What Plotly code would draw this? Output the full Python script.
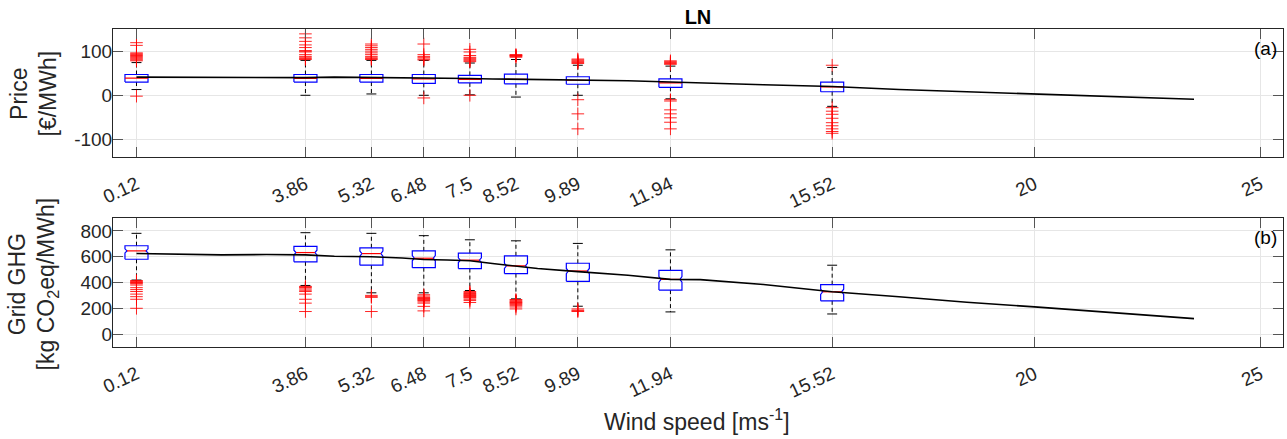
import plotly.graph_objects as go

# ---------------- data ----------------
wind = [0.12, 3.86, 5.32, 6.48, 7.5, 8.52, 9.89, 11.94, 15.52]
tick_vals = [0.12, 3.86, 5.32, 6.48, 7.5, 8.52, 9.89, 11.94, 15.52, 20, 25]
tick_text = ["0.12", "3.86", "5.32", "6.48", "7.5", "8.52", "9.89", "11.94", "15.52", "20", "25"]

price_q1 = [30, 30, 30, 27, 28, 26, 25, 18, 8]
price_med = [39, 38, 38, 37, 36, 36, 34, 28, 19]
price_q3 = [47, 47, 47, 47, 45, 48, 42, 37, 30]
price_lo = [13, 0, 3, 0, 1, -4, 0, -8, -25]
price_hi = [74, 79, 79, 79, 73, 81, 68, 66, 63]
price_out = [
    [119, 113, 96, 94, 92, 90, 88, 86, 84, 82, 80, 78, -2],
    [139, 130, 122, 114, 108, 101, 100, 98, 92, 88, 85, 83, 81],
    [116, 112, 108, 104, 100, 96, 92, 88, 85, 83, 81],
    [116, 92, 88, 85, 82, 80, -6],
    [104, 98, 90, 86, 84, 82, 80, 78, 76, 0],
    [92, 91, 90, 89, 88, 86],
    [82, 80, 78, 76, 74, 72, -10, -42, -76],
    [78, 76, 74, 72, 70, -10, -13, -33, -42, -51, -61, -76],
    [68, -28, -36, -43, -52, -62, -69, -76, -82, -86],
]

ghg_q1 = [580, 560, 534, 515, 508, 469, 409, 341, 258]
ghg_med = [645, 632, 624, 588, 573, 529, 489, 424, 328]
ghg_q3 = [685, 680, 669, 645, 627, 607, 549, 494, 383]
ghg_lo = [419, 377, 320, 320, 338, 273, 216, 172, 156]
ghg_hi = [781, 786, 781, 763, 731, 723, 703, 653, 534]
ghg_notch = [16, 18, 20, 20, 18, 20, 20, 22, 20]
ghg_out = [
    [415, 410, 405, 400, 395, 390, 380, 360, 345, 330, 310, 290, 270, 200],
    [370, 365, 360, 350, 340, 330, 310, 270, 240, 175],
    [300, 290, 285, 175],
    [305, 295, 285, 280, 275, 270, 265, 260, 250, 240, 215, 180],
    [330, 322, 315, 310, 305, 300, 295, 290, 285, 280, 270, 260, 245],
    [268, 262, 255, 250, 245, 240, 235, 228, 220, 210, 195],
    [195, 185, 180, 175],
    [],
    [],
]

line_x = [0.12, 1, 2, 3, 3.86, 4.5, 5.32, 6, 6.48, 7, 7.5, 8, 8.52, 9, 9.89,
          11, 11.94, 12.6, 14, 15.52, 17, 18.5, 20, 21.5, 23.53]
price_line = [41, 40.5, 40, 40.5, 40, 41, 40.5, 39.5, 38.5, 38.5, 38, 37, 36.5, 36, 34.5,
              33, 30, 28.5, 24, 20, 13, 8, 3, -2, -9]
ghg_line = [625, 618, 614, 617, 614, 603, 600, 590, 578, 574, 568, 547, 529, 508, 484,
            456, 424, 422, 385, 328, 289, 247, 211, 172, 120]

# ---------------- style ----------------
BOX_HW = 0.255      # half box width (x units)
CAP_HW = 0.11       # half cap width
NOTCH_IN = 0.045    # notch indent
FONT = "Liberation Sans, Arial, Helvetica, sans-serif"
TXT = "#262626"

fig = go.Figure()


def add_panel(xa, ya, q1, med, q3, lo, hi, outs, notch, lx, ly):
    wx, wy, cx, cy, bx, by, mx, my, ox, oy = [], [], [], [], [], [], [], [], [], []
    for i, p in enumerate(wind):
        wx += [p, p, None, p, p, None]
        wy += [q3[i], hi[i], None, q1[i], lo[i], None]
        cx += [p - CAP_HW, p + CAP_HW, None, p - CAP_HW, p + CAP_HW, None]
        cy += [hi[i], hi[i], None, lo[i], lo[i], None]
        n = notch[i] if notch else 0
        ind = NOTCH_IN if notch else 0
        bx += [p - BOX_HW, p + BOX_HW, p + BOX_HW, p + BOX_HW - ind, p + BOX_HW,
               p + BOX_HW, p - BOX_HW, p - BOX_HW, p - BOX_HW + ind, p - BOX_HW, p - BOX_HW, None]
        by += [q1[i], q1[i], med[i] - n, med[i], med[i] + n,
               q3[i], q3[i], med[i] + n, med[i], med[i] - n, q1[i], None]
        mx += [p - BOX_HW + ind, p + BOX_HW - ind, None]
        my += [med[i], med[i], None]
        for v in outs[i]:
            ox.append(p)
            oy.append(v)
    common = dict(xaxis=xa, yaxis=ya, showlegend=False, hoverinfo="skip")
    fig.add_trace(go.Scatter(x=wx, y=wy, mode="lines",
                             line=dict(color="black", width=1, dash="4px,3px"), **common))
    fig.add_trace(go.Scatter(x=cx, y=cy, mode="lines",
                             line=dict(color="black", width=1), **common))
    fig.add_trace(go.Scatter(x=bx, y=by, mode="lines",
                             line=dict(color="#0000ff", width=1.2), **common))
    fig.add_trace(go.Scatter(x=mx, y=my, mode="lines",
                             line=dict(color="#ff0000", width=1.2), **common))
    fig.add_trace(go.Scatter(x=ox, y=oy, mode="markers",
                             marker=dict(symbol="cross-thin-open", size=9, color="#ff0000",
                                         opacity=0.85,
                                         line=dict(color="#ff0000", width=1)), **common))
    fig.add_trace(go.Scatter(x=lx, y=ly, mode="lines",
                             line=dict(color="black", width=1.6), **common))


add_panel("x", "y", price_q1, price_med, price_q3, price_lo, price_hi, price_out, None,
          line_x, price_line)
add_panel("x2", "y2", ghg_q1, ghg_med, ghg_q3, ghg_lo, ghg_hi, ghg_out, ghg_notch,
          line_x, ghg_line)

axis_common = dict(showline=True, linecolor="#262626", linewidth=1, mirror="ticks",
                   ticks="inside", ticklen=10, tickcolor="#555555", tickwidth=1,
                   showgrid=True, gridcolor="#e6e6e6", gridwidth=1, zeroline=False,
                   tickfont=dict(family=FONT, size=19, color=TXT))

xcommon = dict(axis_common, range=[-0.4, 25.5], tickmode="array", tickvals=tick_vals,
               ticktext=tick_text, tickangle=-25, ticklabelstandoff=8)
ycommon = dict(axis_common, ticklabelstandoff=-4)

fig.update_layout(
    width=1287, height=439,
    margin=dict(l=113, r=4, t=29, b=92),
    paper_bgcolor="white", plot_bgcolor="white",
    font=dict(family=FONT, color=TXT),
    xaxis=dict(xcommon, anchor="y", domain=[0, 1]),
    yaxis=dict(ycommon, anchor="x", domain=[0.597, 1], range=[-140, 150],
               tickvals=[-100, 0, 100], ticktext=["-100", "0", "100"]),
    xaxis2=dict(xcommon, anchor="y2", domain=[0, 1]),
    yaxis2=dict(ycommon, anchor="x2", domain=[0, 0.4057], range=[-100, 900],
                tickvals=[0, 200, 400, 600, 800]),
    title=dict(text="<b>LN</b>", x=0.5, xref="paper", y=1 - 17 / 439, yref="container",
               xanchor="center", yanchor="middle", font=dict(family=FONT, size=20, color="black")),
    annotations=[
        dict(text="Price<br>[€/MWh]", textangle=-90, xref="paper", yref="paper",
             x=(33.5 - 113) / 1170, y=0.7956, xanchor="center", yanchor="middle",
             showarrow=False, font=dict(family=FONT, size=23, color=TXT)),
        dict(text="Grid GHG<br>[kg CO<sub>2</sub>eq/MWh]", textangle=-90, xref="paper", yref="paper",
             x=(33 - 113) / 1170, y=0.2, xanchor="center", yanchor="middle",
             showarrow=False, font=dict(family=FONT, size=23, color=TXT)),
        dict(text="(a)", xref="paper", yref="paper", x=(1265 - 113) / 1170, y=(347 - 48) / 318,
             xanchor="center", yanchor="middle", showarrow=False,
             font=dict(family=FONT, size=19, color="black")),
        dict(text="(b)", xref="paper", yref="paper", x=(1265 - 113) / 1170, y=(347 - 237) / 318,
             xanchor="center", yanchor="middle", showarrow=False,
             font=dict(family=FONT, size=19, color="black")),
        dict(text="Wind speed [ms<sup>-1</sup>]", xref="paper", yref="paper",
             x=(697 - 113) / 1170, y=(347 - 420) / 318, xanchor="center", yanchor="middle",
             showarrow=False, font=dict(family=FONT, size=23, color=TXT)),
    ],
)

fig.write_html("out.html", config={"displayModeBar": False},
               post_script="document.body.style.margin='0';")
